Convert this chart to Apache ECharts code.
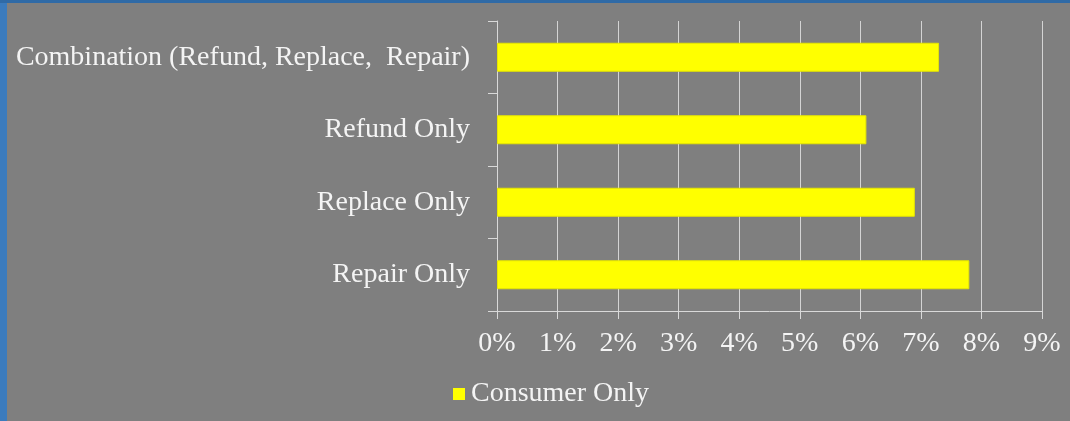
<!DOCTYPE html>
<html>
<head>
<meta charset="utf-8">
<script src="https://cdn.jsdelivr.net/npm/echarts@6/dist/echarts.min.js"></script>
<style>
  html, body { margin: 0; padding: 0; }
  body { width: 1070px; height: 421px; background: #2f6aa6; position: relative; overflow: hidden; }
  #edge { position: absolute; left: 0; top: 3px; width: 7px; height: 418px; background: #3b7bbd; }
  #chart { position: absolute; left: 7px; top: 3px; width: 1063px; height: 418px; background: #7f7f7f; }
</style>
</head>
<body>
<div id="edge"></div>
<div id="chart"></div>
<script>
// top to bottom
const categories = [
  "Combination (Refund, Replace,  Repair)",
  "Refund Only",
  "Replace Only",
  "Repair Only"
];
const consumerOnly = [7.3, 6.1, 6.9, 7.8];
const seriesName = "Consumer Only";

const font = "'Liberation Serif', 'DejaVu Serif', serif";
const myChart = echarts.init(document.getElementById("chart"));

const option = {
  animation: false,
  textStyle: { fontFamily: font },
  legend: {
    data: [seriesName],
    left: 441,
    top: 372,
    icon: "rect",
    itemWidth: 12,
    itemHeight: 12,
    itemGap: 6,
    itemStyle: { borderWidth: 0 },
    textStyle: { color: "#f4f4f4", fontSize: 28, fontFamily: font, padding: [0, 0, 0, 1] }
  },
  grid: {
    left: 490,
    right: 28,
    top: 18,
    bottom: 110
  },
  xAxis: {
    type: "value",
    min: 0,
    max: 9,
    interval: 1,
    axisLine: { show: true, lineStyle: { color: "#d9d9d9", width: 1 } },
    axisTick: { show: true, length: 8, lineStyle: { color: "#d9d9d9" } },
    splitLine: { show: true, lineStyle: { color: "#d4d4d4", width: 1 } },
    axisLabel: {
      color: "#f4f4f4",
      fontSize: 28,
      fontFamily: font,
      margin: 19,
      formatter: "{value}%"
    }
  },
  yAxis: {
    type: "category",
    inverse: true,
    data: categories,
    axisLine: { show: true, lineStyle: { color: "#d9d9d9", width: 1 } },
    axisTick: { show: true, length: 9, lineStyle: { color: "#d9d9d9" } },
    axisLabel: {
      color: "#f4f4f4",
      fontSize: 28,
      fontFamily: font,
      margin: 27
    }
  },
  series: [
    {
      name: seriesName,
      type: "bar",
      data: consumerOnly,
      barWidth: "40%",
      itemStyle: { color: "#ffff00", borderColor: "#e6e600", borderWidth: 1 }
    }
  ]
};

myChart.setOption(option);
</script>
</body>
</html>
